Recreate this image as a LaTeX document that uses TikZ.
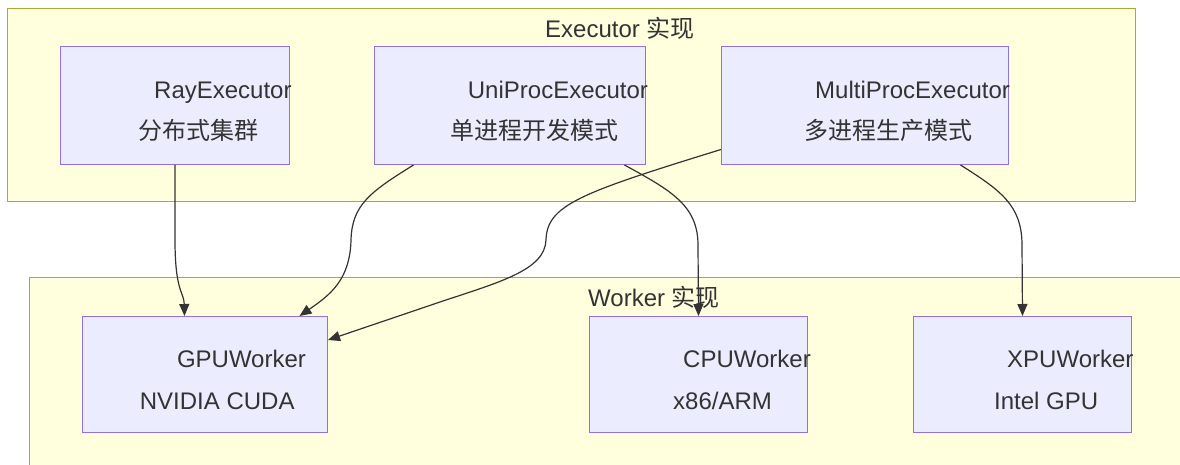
\documentclass[tikz,border=0pt]{standalone}
\usepackage{fontspec}
\setmainfont{Liberation Sans}
\newfontfamily\cjk{Noto Sans CJK SC}
\usetikzlibrary{arrows.meta}
\definecolor{clusterfill}{HTML}{FFFFDE}
\definecolor{clusterline}{HTML}{AAAA33}
\definecolor{boxfill}{HTML}{ECECFF}
\definecolor{boxline}{HTML}{9370DB}
\definecolor{ink}{HTML}{333333}
\tikzset{
  cluster/.style={draw=clusterline, fill=clusterfill, line width=1pt},
  unit/.style={draw=boxline, fill=boxfill, line width=1pt, inner sep=0pt, anchor=north west},
  label/.style={anchor=base west, inner sep=0pt, text=ink, font=\fontsize{24}{28}\selectfont},
  edge/.style={draw=ink, line width=1.2pt, -{Triangle[length=12pt,width=10pt]}},
}
\begin{document}
\begin{tikzpicture}[x=1pt, y=-1pt]
\useasboundingbox (0,0) rectangle (1180,465);
\clip (0,0) rectangle (1180,465);

% group frames
\path[cluster] (7,9) rectangle (1135,202);
\path[cluster] (29,277) rectangle (1190,475);
\node[label] (exectitle) at (545,38) {Executor {\cjk 实现}};
\node[label] (workertitle) at (588,306) {Worker {\cjk 实现}};

% executors
\node[unit, minimum width=229pt, minimum height=118pt] (ray) at (60,46) {};
\node[unit, minimum width=271pt, minimum height=118pt] (uni) at (374,46) {};
\node[unit, minimum width=287pt, minimum height=118pt] (multi) at (721,46) {};
\node[label] (rayname) at (154,99) {RayExecutor};
\node[label] (raydesc) at (138.5,139.5) {\cjk 分布式集群};
\node[label] (uniname) at (467.7,99) {UniProcExecutor};
\node[label] (unidesc) at (450.4,139.5) {\cjk 单进程开发模式};
\node[label] (multiname) at (815,99) {MultiProcExecutor};
\node[label] (multidesc) at (804.6,139.5) {\cjk 多进程生产模式};

% workers
\node[unit, minimum width=245pt, minimum height=116pt] (gpu) at (82,316) {};
\node[unit, minimum width=218pt, minimum height=116pt] (cpu) at (589,316) {};
\node[unit, minimum width=218pt, minimum height=116pt] (xpu) at (913,316) {};
\node[label] (gpuname) at (176.8,367) {GPUWorker};
\node[label] (gpudesc) at (139.7,409) {NVIDIA CUDA};
\node[label] (cpuname) at (683,367) {CPUWorker};
\node[label] (cpudesc) at (673,409) {x86/ARM};
\node[label] (xpuname) at (1007,367) {XPUWorker};
\node[label] (xpudesc) at (994,409) {Intel GPU};

% connectors
\draw[edge] (ray.south) -- (175,240) .. controls (175,292) and (184,292) .. ([xshift=-20.5pt]gpu.north);
\draw[edge] ([xshift=-96.5pt]uni.south) .. controls (370,192) and (352,205) .. (351,240)
  .. controls (350,280) and (330,295) .. ([xshift=94.5pt]gpu.north);
\draw[edge] ([yshift=-44pt]multi.west) .. controls (580,193) and (547,205) .. (546,240)
  .. controls (545,270) and (500,282) .. (440,302) -- ([yshift=-24pt]gpu.north east);
\draw[edge] ([xshift=114.5pt]uni.south) .. controls (670,190) and (698,205) .. (698,245) -- (cpu.north);
\draw[edge] ([xshift=95.5pt]multi.south) .. controls (1000,190) and (1022,205) .. (1022,245) -- (xpu.north);
\end{tikzpicture}
\end{document}
